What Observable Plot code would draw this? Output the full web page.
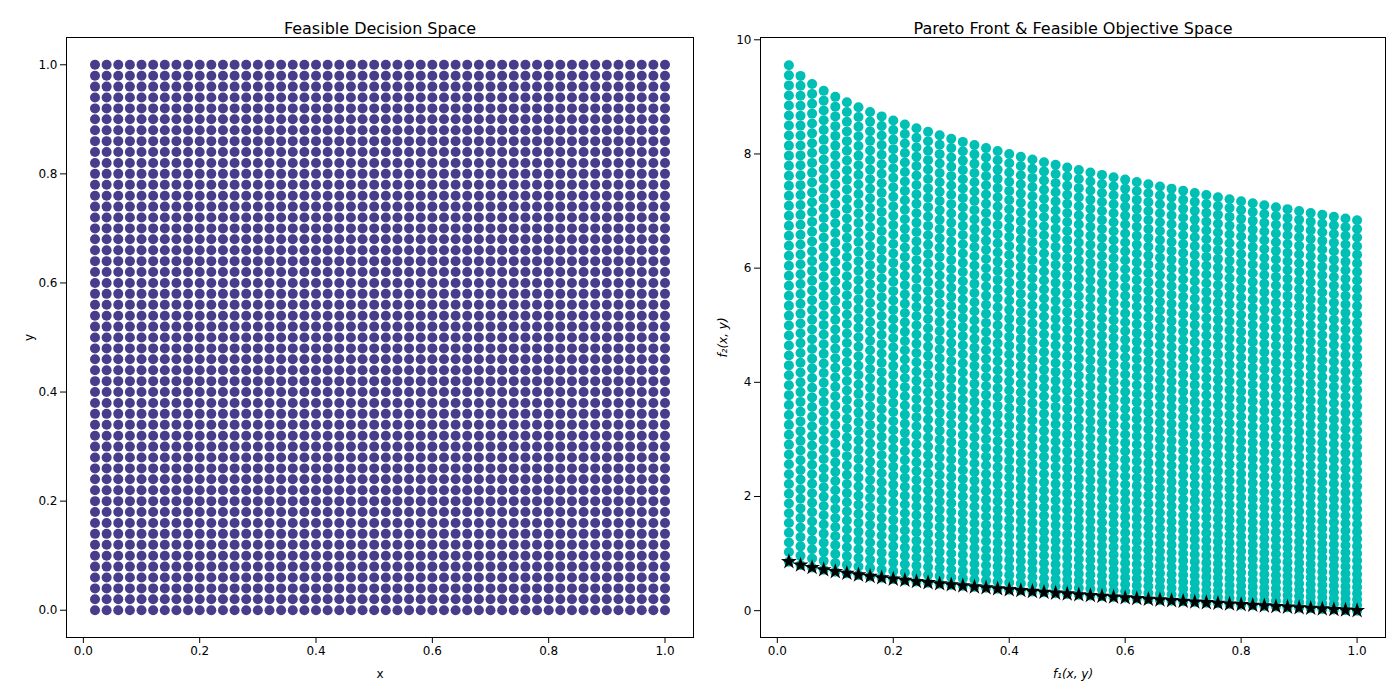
<!DOCTYPE html>
<html><head><meta charset="utf-8">
<script src="https://cdn.jsdelivr.net/npm/d3@7"></script>
<script src="https://cdn.jsdelivr.net/npm/@observablehq/plot@0.6"></script>
<style>body{margin:0;background:#fff;font-family:"DejaVu Sans",sans-serif}#wrap{display:flex}</style>
</head><body><div id="wrap"></div>
<script>
// decision grid: 50 columns, 51 rows
const xs = [0.02,0.04,0.06,0.08,0.10,0.12,0.14,0.16,0.18,0.20,0.22,0.24,0.26,0.28,0.30,0.32,0.34,0.36,0.38,0.40,0.42,0.44,0.46,0.48,0.50,0.52,0.54,0.56,0.58,0.60,0.62,0.64,0.66,0.68,0.70,0.72,0.74,0.76,0.78,0.80,0.82,0.84,0.86,0.88,0.90,0.92,0.94,0.96,0.98,1.00];
const ys = [0,0.02,0.04,0.06,0.08,0.10,0.12,0.14,0.16,0.18,0.20,0.22,0.24,0.26,0.28,0.30,0.32,0.34,0.36,0.38,0.40,0.42,0.44,0.46,0.48,0.50,0.52,0.54,0.56,0.58,0.60,0.62,0.64,0.66,0.68,0.70,0.72,0.74,0.76,0.78,0.80,0.82,0.84,0.86,0.88,0.90,0.92,0.94,0.96,0.98,1.00];
const ticks = [0, 0.2, 0.4, 0.6, 0.8, 1.0];
const f2Ticks = [0, 2, 4, 6, 8, 10];

// objectives of the right panel (ZDT1 style problem)
const f1 = (x, y) => x;
const f2 = (x, y) => { const g = 1 + 9 * y; return g * (1 - Math.sqrt(x / g)); };

const grid = ys.flatMap(y => xs.map(x => ({x, y})));
const objective = grid.map(d => ({f1: f1(d.x, d.y), f2: f2(d.x, d.y), y: d.y}));
const front = objective.filter(d => d.y === 0);

const font = "DejaVu Sans";

let left = Plot.plot({
  width: 700, height: 700,
  marginLeft: 66, marginRight: 7, marginTop: 37, marginBottom: 63,
  style: {fontFamily: font, fontSize: "12px", color: "#000"},
  x: {domain: [-0.029, 1.049], ticks: ticks, tickFormat: ".1f", label: "x", labelAnchor: "center", labelArrow: "none", labelOffset: 40},
  y: {domain: [-0.05, 1.05], ticks: ticks, tickFormat: ".1f", label: "y", labelAnchor: "center", labelArrow: "none", labelOffset: 42},
  marks: [
    Plot.frame(),
    Plot.dot(grid, {x: "x", y: "y", r: 5, fill: "#483d8b"}),
    Plot.text(["Feasible Decision Space"], {frameAnchor: "top", dy: -15, fontSize: 16})
  ]
});

let right = Plot.plot({
  width: 700, height: 700,
  marginLeft: 60, marginRight: 15, marginTop: 37, marginBottom: 63,
  style: {fontFamily: font, fontSize: "12px", color: "#000"},
  x: {domain: [-0.029, 1.049], ticks: ticks, tickFormat: ".1f", label: "f₁(x, y)", labelAnchor: "center", labelArrow: "none", labelOffset: 40},
  y: {domain: [-0.47, 10.04], ticks: f2Ticks, tickFormat: "d", label: "f₂(x, y)", labelAnchor: "center", labelArrow: "none", labelOffset: 42},
  marks: [
    Plot.frame(),
    Plot.dot(objective, {x: "f1", y: "f2", r: 5, fill: "#00bfb5"}),
    Plot.dot(front, {x: "f1", y: "f2", r: 5, symbol: "star", fill: "#000"}),
    Plot.text(["Pareto Front & Feasible Objective Space"], {frameAnchor: "top", dy: -15, fontSize: 16})
  ]
});

d3.select("#wrap").append(() => left);
d3.select("#wrap").append(() => right);
d3.selectAll("#wrap svg g[aria-label='x-axis label'] text, #wrap svg g[aria-label='y-axis label'] text").filter(function(){return this.textContent.includes("f")}).style("font-style", "italic");
</script></body></html>
